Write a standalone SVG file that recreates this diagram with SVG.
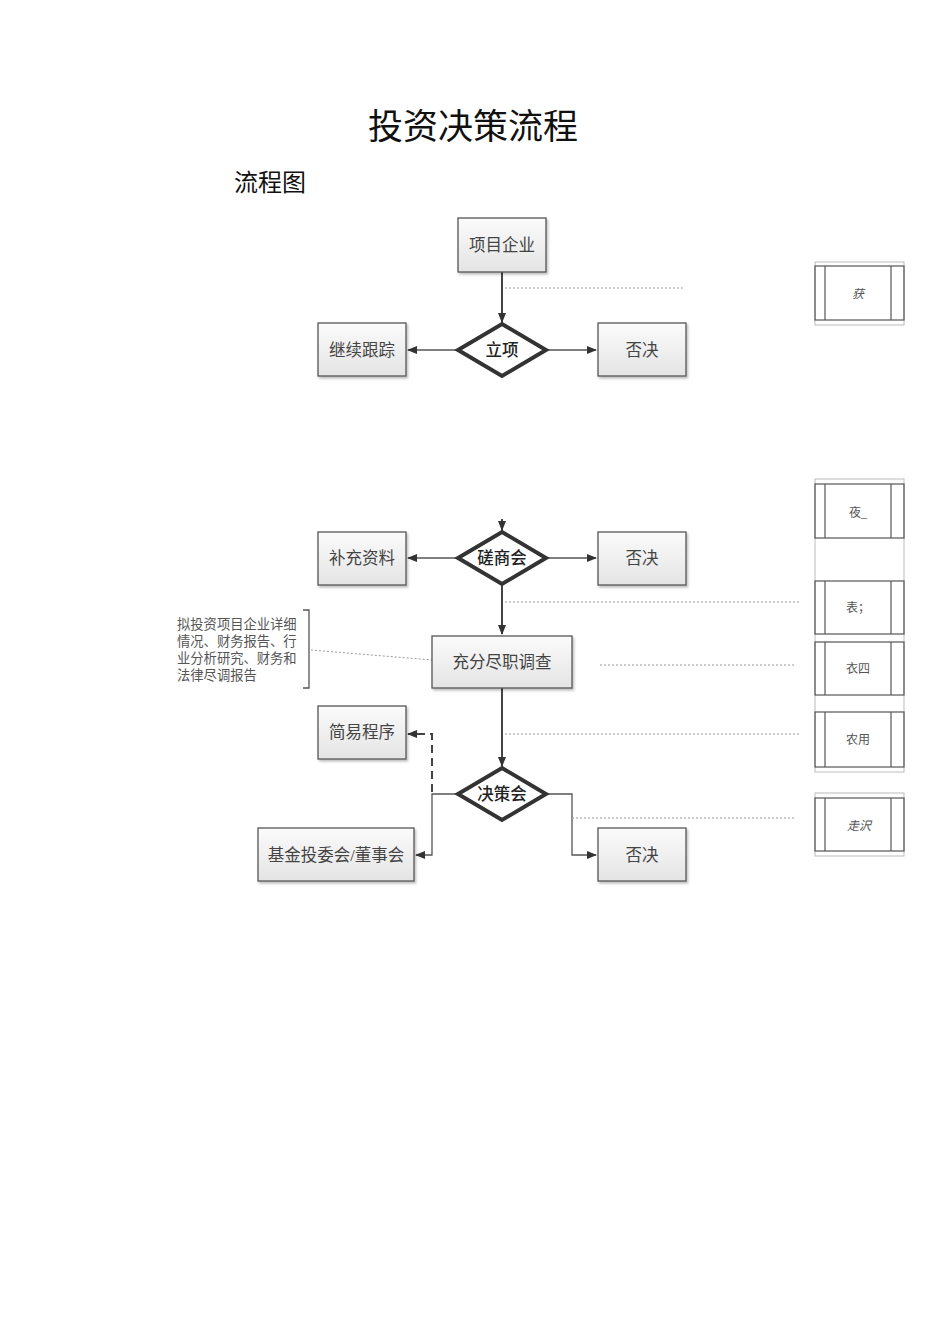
<svg xmlns="http://www.w3.org/2000/svg" width="950" height="1344" viewBox="0 0 950 1344">
<style>
text{font-family:"Liberation Serif","Noto Sans CJK SC",serif;text-anchor:middle;dominant-baseline:central}
.title{font-size:35px;fill:#111}
.sub{font-size:24px;fill:#111;text-anchor:start}
.box{fill:url(#g);stroke:#555;stroke-width:1.3}
.dia{fill:#fff;stroke:#333;stroke-width:4;stroke-linejoin:miter}
.lbl{font-size:16.5px;fill:#444}
.dlbl{font-size:16.5px;fill:#222;font-weight:500}
.ln{stroke:#555;stroke-width:1.3;fill:none}
.thick{stroke:#444;stroke-width:2;fill:none}
.dot{stroke:#999;stroke-width:1;stroke-dasharray:2 2;fill:none}
.dash{stroke:#444;stroke-width:2;stroke-dasharray:8 5;fill:none}
.side{fill:none;stroke:#555;stroke-width:1.2}
.outer{fill:none;stroke:#bbb;stroke-width:1}
.stxt{font-size:12px;fill:#555}
.note{font-size:13.3px;fill:#555;text-anchor:start}
</style>
<defs>
<linearGradient id="g" x1="0" y1="0" x2="0" y2="1"><stop offset="0" stop-color="#fbfbfb"/><stop offset="1" stop-color="#e4e4e4"/></linearGradient>
<marker id="a" markerWidth="10" markerHeight="8" refX="9" refY="4" orient="auto" markerUnits="userSpaceOnUse"><path d="M0,0 L10,4 L0,8 z" fill="#333"/></marker>
<filter id="sh" x="-10%" y="-10%" width="130%" height="140%"><feDropShadow dx="1.5" dy="2" stdDeviation="1.2" flood-color="#000" flood-opacity="0.25"/></filter>
</defs>
<text class="title" x="473" y="127">投资决策流程</text>
<text class="sub" x="234" y="183">流程图</text>

<g id="connectors">
<line class="thick" x1="502" y1="272" x2="502" y2="322" marker-end="url(#a)"/>
<line class="ln" x1="458" y1="350" x2="408" y2="350" marker-end="url(#a)"/>
<line class="ln" x1="546" y1="350" x2="596" y2="350" marker-end="url(#a)"/>
<line class="dot" x1="505" y1="288" x2="685" y2="288"/>
<line class="thick" x1="502" y1="519" x2="502" y2="530" marker-end="url(#a)"/>
<line class="ln" x1="458" y1="558" x2="408" y2="558" marker-end="url(#a)"/>
<line class="ln" x1="546" y1="558" x2="596" y2="558" marker-end="url(#a)"/>
<line class="thick" x1="502" y1="585" x2="502" y2="634" marker-end="url(#a)"/>
<line class="dot" x1="505" y1="602" x2="800" y2="602"/>
<line class="dot" x1="600" y1="665" x2="796" y2="665"/>
<line class="dot" x1="311" y1="650" x2="432" y2="660"/>
<line class="thick" x1="502" y1="688" x2="502" y2="766" marker-end="url(#a)"/>
<line class="dot" x1="505" y1="734" x2="800" y2="734"/>
<polyline class="dash" points="432,792 432,734 408,734" marker-end="url(#a)"/>
<polyline class="ln" points="458,794 432,794 432,855 416,855" marker-end="url(#a)"/>
<polyline class="ln" points="546,794 572,794 572,855 596,855" marker-end="url(#a)"/>
<line class="dot" x1="572" y1="818" x2="796" y2="818"/>
</g>

<g id="n-xmqy"><rect class="box" x="458" y="218" width="88" height="54" filter="url(#sh)"/><text class="lbl" x="502" y="245">项目企业</text></g>
<g id="n-lx"><polygon class="dia" points="502,324 546,350 502,376 458,350"/><text class="dlbl" x="502" y="350">立项</text></g>
<g id="n-jxgz"><rect class="box" x="318" y="323" width="88" height="53" filter="url(#sh)"/><text class="lbl" x="362" y="350">继续跟踪</text></g>
<g id="n-fj1"><rect class="box" x="598" y="323" width="88" height="53" filter="url(#sh)"/><text class="lbl" x="642" y="350">否决</text></g>

<g id="n-csh"><polygon class="dia" points="502,532 546,558 502,584 458,558"/><text class="dlbl" x="502" y="558">磋商会</text></g>
<g id="n-bczl"><rect class="box" x="318" y="532" width="88" height="53" filter="url(#sh)"/><text class="lbl" x="362" y="558">补充资料</text></g>
<g id="n-fj2"><rect class="box" x="598" y="532" width="88" height="53" filter="url(#sh)"/><text class="lbl" x="642" y="558">否决</text></g>
<g id="n-jd"><rect class="box" x="432" y="636" width="140" height="52" filter="url(#sh)"/><text class="lbl" x="502" y="662">充分尽职调查</text></g>
<g id="n-note">
<polyline class="ln" points="303,610 309,610 309,688 303,688"/>
<text class="note" x="177" y="624">拟投资项目企业详细</text>
<text class="note" x="177" y="641">情况、财务报告、行</text>
<text class="note" x="177" y="658">业分析研究、财务和</text>
<text class="note" x="177" y="675">法律尽调报告</text>
</g>
<g id="n-jycx"><rect class="box" x="318" y="706" width="88" height="53" filter="url(#sh)"/><text class="lbl" x="362" y="732">简易程序</text></g>
<g id="n-jch"><polygon class="dia" points="502,768 546,794 502,820 458,794"/><text class="dlbl" x="502" y="794">决策会</text></g>
<g id="n-jj"><rect class="box" x="258" y="828" width="156" height="53" filter="url(#sh)"/><text class="lbl" x="336" y="855">基金投委会/董事会</text></g>
<g id="n-fj3"><rect class="box" x="598" y="828" width="88" height="53" filter="url(#sh)"/><text class="lbl" x="642" y="855">否决</text></g>

<g id="r1">
<rect class="outer" x="815" y="262" width="89" height="63"/>
<rect class="side" x="815" y="266" width="89" height="54"/>
<line class="side" x1="825" y1="266" x2="825" y2="320"/><line class="side" x1="891" y1="266" x2="891" y2="320"/>
<text class="stxt" x="858" y="294" font-style="italic">获</text>
</g>
<g id="r2">
<rect class="outer" x="815" y="479" width="89" height="293"/>
<rect class="side" x="815" y="484" width="89" height="54"/>
<line class="side" x1="825" y1="484" x2="825" y2="538"/><line class="side" x1="891" y1="484" x2="891" y2="538"/>
<text class="stxt" x="858" y="513">夜_</text>
<rect class="side" x="815" y="581" width="89" height="53"/>
<line class="side" x1="825" y1="581" x2="825" y2="634"/><line class="side" x1="891" y1="581" x2="891" y2="634"/>
<text class="stxt" x="858" y="608" font-size="11">表；</text>
<rect class="side" x="815" y="642" width="89" height="53"/>
<line class="side" x1="825" y1="642" x2="825" y2="695"/><line class="side" x1="891" y1="642" x2="891" y2="695"/>
<text class="stxt" x="858" y="669" font-size="11">衣四</text>
<rect class="side" x="815" y="712" width="89" height="55"/>
<line class="side" x1="825" y1="712" x2="825" y2="767"/><line class="side" x1="891" y1="712" x2="891" y2="767"/>
<text class="stxt" x="858" y="740" font-size="11">农用</text>
</g>
<g id="r3">
<rect class="outer" x="815" y="793" width="89" height="63"/>
<rect class="side" x="815" y="798" width="89" height="53"/>
<line class="side" x1="825" y1="798" x2="825" y2="851"/><line class="side" x1="891" y1="798" x2="891" y2="851"/>
<text class="stxt" x="859" y="826" font-style="italic">走沢</text>
</g>
</svg>
